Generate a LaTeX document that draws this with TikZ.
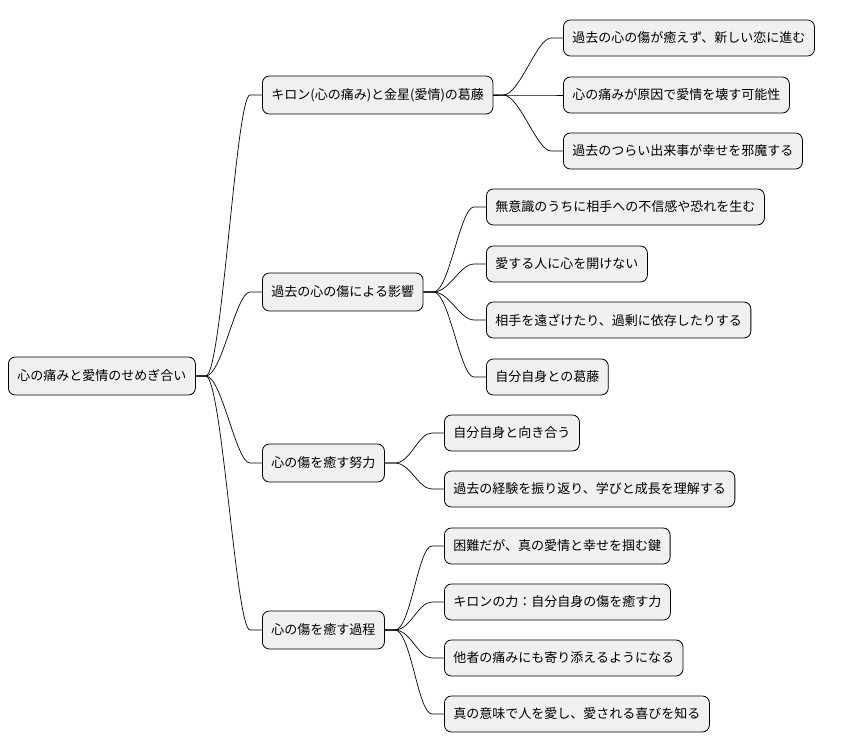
\documentclass[tikz,border=0pt]{standalone}
\usepackage{fontspec}
\usetikzlibrary{calc}
\newfontfamily\cjk{Noto Sans CJK JP}
\begin{document}
\begin{tikzpicture}[x=1pt,y=-1pt,
  box/.style={draw=black,fill=black!6,rounded corners=7pt,font=\cjk\fontsize{13}{15}\selectfont,inner xsep=9pt,minimum height=36pt,anchor=west,line width=0.8pt},
  big/.style={box,minimum height=38pt},
  link/.style={line width=0.7pt}]
\useasboundingbox (0,0) rectangle (846,752);
\node[big] (r) at (8,376) {心の痛みと愛情のせめぎ合い};
\node[big] (a) at (262,95) {キロン(心の痛み)と金星(愛情)の葛藤};
\node[big] (b) at (262,292) {過去の心の傷による影響};
\node[big] (c) at (262,463) {心の傷を癒す努力};
\node[big] (d) at (262,630) {心の傷を癒す過程};
\node[box] (a1) at (563,38) {過去の心の傷が癒えず、新しい恋に進む};
\node[box] (a2) at (563,95) {心の痛みが原因で愛情を壊す可能性};
\node[box] (a3) at (563,151) {過去のつらい出来事が幸せを邪魔する};
\node[box] (b1) at (486,207) {無意識のうちに相手への不信感や恐れを生む};
\node[box] (b2) at (486,264) {愛する人に心を開けない};
\node[box] (b3) at (486,320) {相手を遠ざけたり、過剰に依存したりする};
\node[box] (b4) at (486,377) {自分自身との葛藤};
\node[box] (c1) at (444,433) {自分自身と向き合う};
\node[box] (c2) at (444,489) {過去の経験を振り返り、学びと成長を理解する};
\node[box] (d1) at (444,546) {困難だが、真の愛情と幸せを掴む鍵};
\node[box] (d2) at (444,602) {キロンの力：自分自身の傷を癒す力};
\node[box] (d3) at (444,658) {他者の痛みにも寄り添えるようになる};
\node[box] (d4) at (444,714) {真の意味で人を愛し、愛される喜びを知る};
\foreach \p/\c in {r/a,r/b,r/c,r/d,a/a1,a/a2,a/a3,b/b1,b/b2,b/b3,b/b4,c/c1,c/c2,d/d1,d/d2,d/d3,d/d4}{
  \draw[link] (\p.east) -- ++(10,0) coordinate (s)
    .. controls +(16,0) and ($(\c.west)+(-26,0)$) .. ($(\c.west)+(-12,0)$) -- (\c.west);
}
\end{tikzpicture}
\end{document}
